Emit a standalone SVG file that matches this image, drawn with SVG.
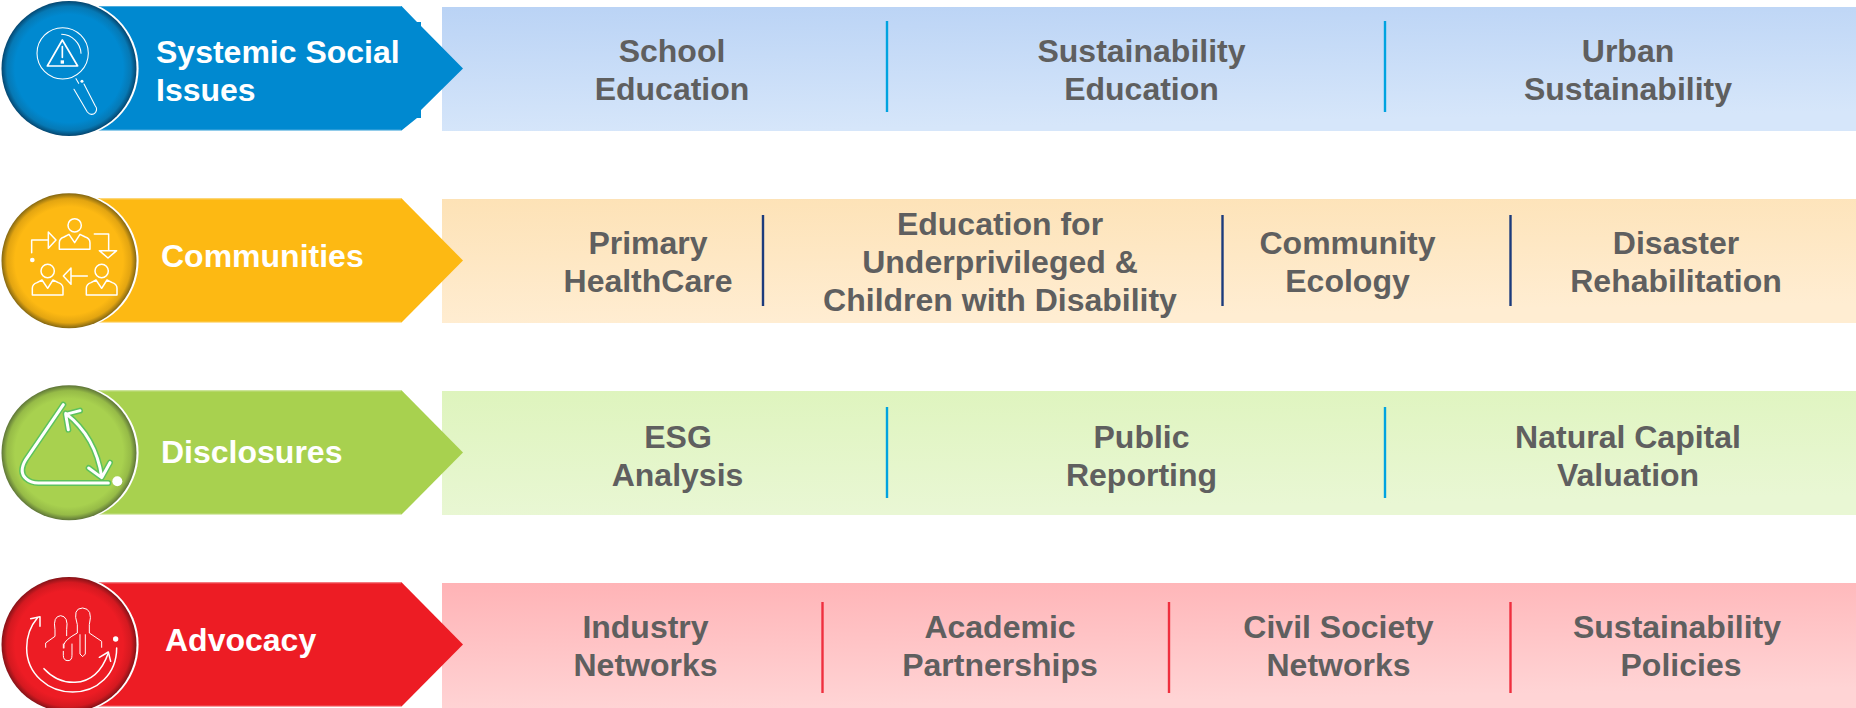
<svg xmlns="http://www.w3.org/2000/svg" width="1856" height="708" viewBox="0 0 1856 708">
<defs>
<linearGradient id="bandB" x1="0" y1="0" x2="0.2" y2="1"><stop offset="0" stop-color="#BAD3F5"/><stop offset="1" stop-color="#D6E6FA"/></linearGradient>
<linearGradient id="bandY" x1="0" y1="0" x2="0.2" y2="1"><stop offset="0" stop-color="#FDE2B6"/><stop offset="1" stop-color="#FFEDD2"/></linearGradient>
<linearGradient id="bandG" x1="0" y1="0" x2="0.2" y2="1"><stop offset="0" stop-color="#DEF4BD"/><stop offset="1" stop-color="#E9F7D4"/></linearGradient>
<linearGradient id="bandR" x1="0" y1="0" x2="0.2" y2="1"><stop offset="0" stop-color="#FFB3B6"/><stop offset="1" stop-color="#FFD4D5"/></linearGradient>
<radialGradient id="discB"><stop offset="0.8" stop-color="#0089D0"/><stop offset="0.92" stop-color="#0679B5"/><stop offset="1" stop-color="#05466F"/></radialGradient>
<radialGradient id="discY"><stop offset="0.8" stop-color="#FDB913"/><stop offset="0.92" stop-color="#E3A511"/><stop offset="1" stop-color="#846712"/></radialGradient>
<radialGradient id="discG"><stop offset="0.8" stop-color="#A8D14F"/><stop offset="0.92" stop-color="#96BB47"/><stop offset="1" stop-color="#5E7538"/></radialGradient>
<radialGradient id="discR"><stop offset="0.8" stop-color="#ED1C24"/><stop offset="0.92" stop-color="#D41920"/><stop offset="1" stop-color="#841318"/></radialGradient>
<g id="person"><circle cx="224" cy="106" r="20"/><path d="M178,178 V158 Q178,146 192,141 L207,133 L224,158 L240,133 L256,141 Q270,146 270,158 V178 Z"/></g>
</defs>
<style>
.lead{font:bold 32px "Liberation Sans",Arial,sans-serif;fill:#fff}
.item{font:bold 32px "Liberation Sans",Arial,sans-serif;fill:#5F5F5F;text-anchor:middle}
.edge{stroke:#fff;stroke-opacity:.3;stroke-width:1.2;fill:none}
.ring{fill:#fff}
.ic{fill:none;stroke:#fff;stroke-width:4.5;stroke-linejoin:round;stroke-linecap:round}
.thin{stroke-width:3.2}
.wh{fill:#fff;stroke:none}
.sb{stroke:#00A3E0;stroke-width:2.4}
.sn{stroke:#1C3B7C;stroke-width:2.4}
.sr{stroke:#EF2F3E;stroke-width:2.4}
</style>

<g id="row-systemic">
<rect x="442" y="7" width="1414" height="124" fill="url(#bandB)"/>
<polygon points="90,6 401.5,6 417,22 421,22 421,26 463,68.5 421,110 421,118 417,118 401.5,130.5 90,130.5" fill="#0089D0"/>
<path class="edge" d="M100,6.5H401M100,130H401"/>
<circle class="ring" cx="70" cy="68.5" r="68.6"/>
<circle cx="69" cy="68.5" r="67.5" fill="url(#discB)"/>
<g transform="scale(.3333)" class="ic thin">
<circle cx="188" cy="160" r="77"/>
<path d="M187,120 L142,198 H233 Z" stroke-width="5"/>
<path d="M187,140 V172" stroke-width="5"/>
<path d="M185,103 A60,60 0 0 1 243,160"/>
<path d="M228,236 L236,250 M222,268 L262,336 Q275,350 287,337 Q293,326 286,318 L252,252"/>
<rect class="wh" x="182" y="181" width="10" height="10"/>
<circle class="wh" cx="246" cy="244" r="4.5"/>
</g>
<text class="lead" x="156" y="62.5">Systemic Social</text>
<text class="lead" x="156" y="100.5">Issues</text>
<text class="item" x="672" y="62">School</text><text class="item" x="672" y="100">Education</text>
<line class="sb" x1="887" y1="21" x2="887" y2="112"/>
<text class="item" x="1141.5" y="62">Sustainability</text><text class="item" x="1141.5" y="100">Education</text>
<line class="sb" x1="1385" y1="21" x2="1385" y2="112"/>
<text class="item" x="1628" y="62">Urban</text><text class="item" x="1628" y="100">Sustainability</text>
</g>

<g id="row-communities">
<rect x="442" y="199" width="1414" height="124" fill="url(#bandY)"/>
<polygon points="90,198.3 401.5,198.3 463,260.5 401.5,322.5 90,322.5" fill="#FDB913"/>
<path class="edge" d="M100,198.8H401M100,322H401"/>
<circle class="ring" cx="70" cy="260.8" r="68.6"/>
<circle cx="69" cy="260.8" r="67.5" fill="url(#discY)"/>
<g transform="translate(0,190) scale(.3333)" class="ic">
<use href="#person"/>
<use href="#person" x="81" y="137"/>
<use href="#person" x="-81" y="137"/>
<path d="M95,188 V150 H145 M145,126 L168,150 L145,175 Z"/>
<path d="M283,132 H326 V182 M298,182 H350 L324,204 Z"/>
<path d="M262,258 H213 M213,234 L190,258 L213,283 Z"/>
<circle class="wh" cx="97" cy="210" r="7"/>
</g>
<text class="lead" x="161" y="266.5">Communities</text>
<text class="item" x="648" y="254">Primary</text><text class="item" x="648" y="292">HealthCare</text>
<line class="sn" x1="763" y1="215" x2="763" y2="306"/>
<text class="item" x="1000" y="235">Education for</text><text class="item" x="1000" y="273">Underprivileged &amp;</text><text class="item" x="1000" y="311">Children with Disability</text>
<line class="sn" x1="1222.5" y1="215" x2="1222.5" y2="306"/>
<text class="item" x="1347.5" y="254">Community</text><text class="item" x="1347.5" y="292">Ecology</text>
<line class="sn" x1="1510.5" y1="215" x2="1510.5" y2="306"/>
<text class="item" x="1676" y="254">Disaster</text><text class="item" x="1676" y="292">Rehabilitation</text>
</g>

<g id="row-disclosures">
<rect x="442" y="391" width="1414" height="124" fill="url(#bandG)"/>
<polygon points="90,390.3 401.5,390.3 463,452.5 401.5,514.6 90,514.6" fill="#A8D14F"/>
<path class="edge" d="M100,390.8H401M100,514H401"/>
<circle class="ring" cx="70" cy="452.8" r="68.6"/>
<circle cx="69" cy="452.8" r="67.5" fill="url(#discG)"/>
<g transform="translate(0,382) scale(.3333)" fill="none" stroke-linecap="round" stroke-linejoin="round">
<g stroke="#5CC25C" stroke-width="18">
<path d="M190,68 L78,232 Q55,270 78,290 Q92,303 115,303 H325"/>
<path d="M197,94 Q288,165 305,285 M240,86 L197,97 L205,143 M266,258 L305,287 L330,242"/>
</g>
<g stroke="#fff" stroke-width="9">
<path d="M190,68 L78,232 Q55,270 78,290 Q92,303 115,303 H325"/>
<path d="M197,94 Q288,165 305,285 M240,86 L197,97 L205,143 M266,258 L305,287 L330,242"/>
</g>
<circle class="wh" cx="352" cy="298" r="15"/>
</g>
<text class="lead" x="161" y="463">Disclosures</text>
<text class="item" x="678" y="448">ESG</text><text class="item" x="677.5" y="486">Analysis</text>
<line class="sb" x1="887" y1="407" x2="887" y2="498"/>
<text class="item" x="1141.5" y="448">Public</text><text class="item" x="1141.5" y="486">Reporting</text>
<line class="sb" x1="1385" y1="407" x2="1385" y2="498"/>
<text class="item" x="1628" y="448">Natural Capital</text><text class="item" x="1628" y="486">Valuation</text>
</g>

<g id="row-advocacy">
<rect x="442" y="583" width="1414" height="125" fill="url(#bandR)"/>
<polygon points="90,582.3 401.5,582.3 463,644.5 401.5,706.6 90,706.6" fill="#ED1C24"/>
<path class="edge" d="M100,582.8H401M100,706H401"/>
<circle class="ring" cx="70" cy="644.5" r="68.6"/>
<circle cx="69" cy="644.5" r="67.5" fill="url(#discR)"/>
<g transform="translate(0,568) scale(.3333)" class="ic">
<path d="M112,150 C88,178 80,210 80,240 C80,318 145,372 218,372 C292,372 350,318 350,240"/>
<path d="M92,152 L120,146 L120,175"/>
<path d="M132,302 Q172,345 225,343 Q295,340 325,255"/>
<path d="M298,268 L325,252 L332,280"/>
<circle class="wh" cx="347" cy="213" r="8"/>
<g stroke-width="3">
<path d="M137,238 V225 L165,205 V185 Q158,145 182,143 Q206,145 200,185 V203"/>
<path d="M216,228 V262 Q216,278 204,278 Q190,278 190,262 V250 M190,240 V228"/>
<path d="M192,240 V230 Q195,215 232,195 V170 Q216,120 248,120 Q280,122 268,170 V195 L305,220 V238"/>
<path d="M240,200 V258 L248,266 L256,258 V200"/>
</g>
</g>
<text class="lead" x="165" y="651">Advocacy</text>
<text class="item" x="645.5" y="638">Industry</text><text class="item" x="645.5" y="676">Networks</text>
<line class="sr" x1="822.5" y1="602" x2="822.5" y2="693"/>
<text class="item" x="1000" y="638">Academic</text><text class="item" x="1000" y="676">Partnerships</text>
<line class="sr" x1="1169" y1="602" x2="1169" y2="693"/>
<text class="item" x="1338.5" y="638">Civil Society</text><text class="item" x="1338.5" y="676">Networks</text>
<line class="sr" x1="1510.5" y1="602" x2="1510.5" y2="693"/>
<text class="item" x="1677" y="638">Sustainability</text><text class="item" x="1681" y="676">Policies</text>
</g>
</svg>
